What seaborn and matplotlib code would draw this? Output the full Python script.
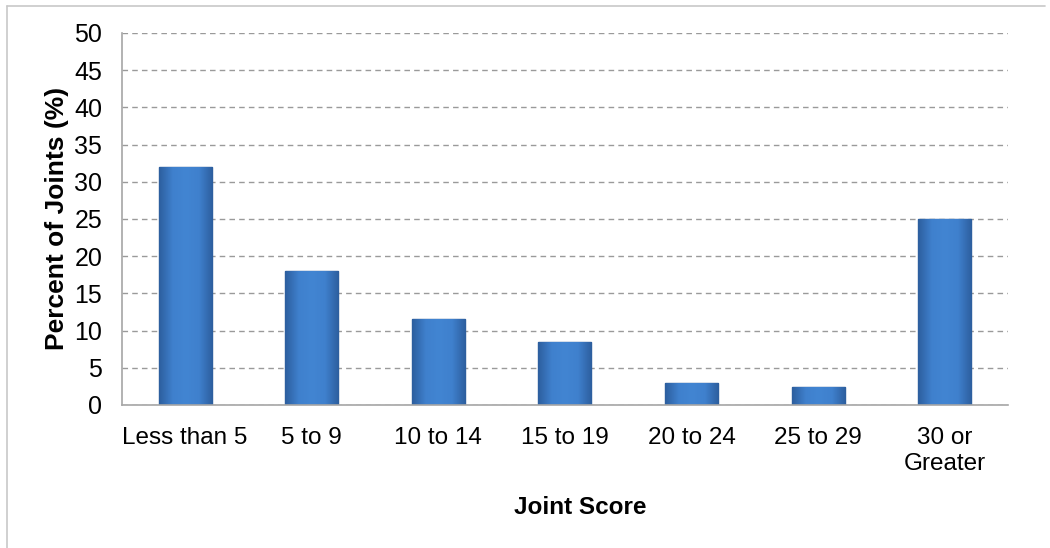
import matplotlib
matplotlib.use("Agg")
import matplotlib.pyplot as plt
import seaborn as sns
import pandas as pd
import numpy as np
from matplotlib.lines import Line2D
from matplotlib.colors import LinearSegmentedColormap

categories = ["Less than 5", "5 to 9", "10 to 14", "15 to 19", "20 to 24", "25 to 29", "30 or\nGreater"]
percent = [32, 18, 11.5, 8.5, 3, 2.4, 25]

df = pd.DataFrame({"score": categories, "pct": percent})

sns.set_theme(style="white")
plt.rcParams['font.family'] = ['Liberation Sans', 'DejaVu Sans']
plt.rcParams['text.color'] = 'black'

fig = plt.figure(figsize=(10.5, 5.48), dpi=100)
ax = fig.add_axes([0.116, 0.261, 0.844, 0.679])

sns.barplot(data=df, x="score", y="pct", color="#3b79c6", width=0.42,
            edgecolor="#2b5b96", linewidth=1.0, saturation=1, ax=ax)

# shaded look on the bars: darker at the sides, lighter in the middle
shade = LinearSegmentedColormap.from_list("bar", ["#2d5f9f", "#3f80cd", "#4285d2", "#3f80cd", "#2d5f9f"])
grad = np.linspace(0, 1, 64).reshape(1, -1)
for p in ax.patches:
    x0, y0 = p.get_x(), p.get_y()
    w, h = p.get_width(), p.get_height()
    im = ax.imshow(grad, cmap=shade, aspect="auto", extent=(x0, x0 + w, y0, y0 + h), zorder=p.get_zorder())
    im.set_clip_path(p)

ax.set_ylim(0, 50)
ax.set_xlim(-0.5, len(categories) - 0.5)
ax.set_yticks(np.arange(0, 51, 5))
ax.yaxis.grid(True, linestyle=(0, (4, 3)), color="#9a9a9a", linewidth=1.0)
ax.set_axisbelow(True)

for s in ["top", "right"]:
    ax.spines[s].set_visible(False)
for s in ["left", "bottom"]:
    ax.spines[s].set_color("#a6a6a6")
    ax.spines[s].set_linewidth(1.2)

ax.set_xticks(np.arange(-0.5, len(categories), 1), minor=True)
ax.tick_params(axis="x", which="major", length=0, pad=16, labelsize=17.5, labelcolor="black")
ax.tick_params(axis="x", which="minor", length=8, width=1.2, color="#a6a6a6", direction="out")
ax.tick_params(axis="y", length=8, width=1.0, color="#a6a6a6", direction="out", labelsize=18,
               labelcolor="black", pad=6)
for t in ax.get_xticklabels():
    t.set_linespacing(1.25)

ax.set_xlabel("Joint Score", fontsize=17.5, fontweight="bold", color="black")
ax.xaxis.set_label_coords(0.517, -0.245)
ax.set_ylabel("Percent of Joints (%)", fontsize=19, fontweight="bold", labelpad=4, color="black")

# frame lines (top and left only) around the chart area
fig.add_artist(Line2D([0.007, 0.007], [0.0, 0.989], transform=fig.transFigure, color="#c8c8c8", linewidth=1.2))
fig.add_artist(Line2D([0.007, 0.995], [0.989, 0.989], transform=fig.transFigure, color="#c8c8c8", linewidth=1.2))

fig.savefig("out.png", dpi=100)
